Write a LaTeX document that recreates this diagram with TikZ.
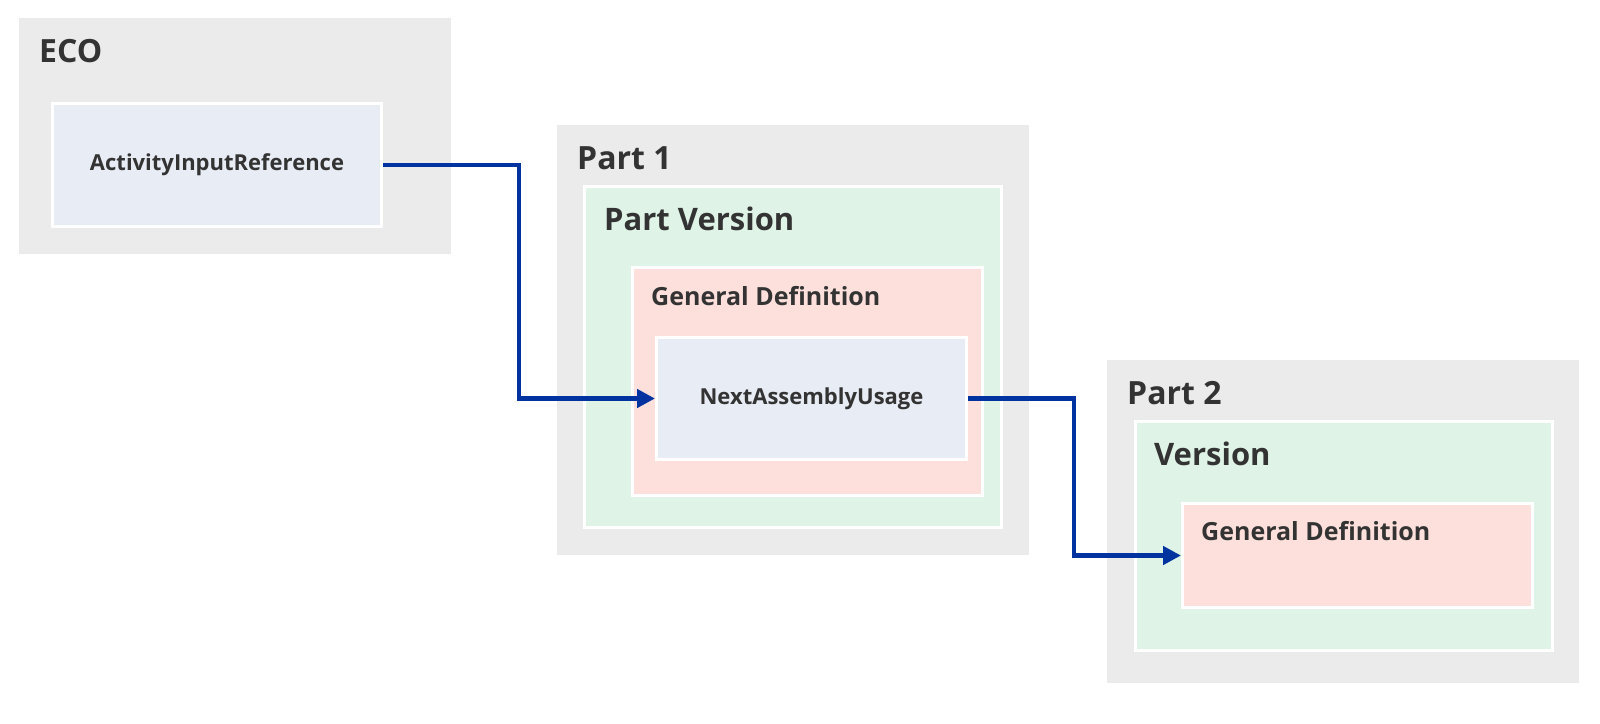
\documentclass[tikz,border=0pt]{standalone}
\usepackage{fontspec}
\setmainfont{Open Sans}
\usetikzlibrary{arrows.meta}
\definecolor{boxgray}{HTML}{EBEBEB}
\definecolor{boxgreen}{HTML}{DFF3E6}
\definecolor{boxred}{HTML}{FDE0DB}
\definecolor{boxblue}{HTML}{E8ECF4}
\definecolor{txt}{HTML}{333333}
\definecolor{conn}{HTML}{00339F}
\tikzset{
  outer/.style={fill=boxgray, draw=none, inner sep=0, outer sep=0},
  inbox/.style={draw=white, line width=3pt, inner sep=0},
  greenbox/.style={inbox, fill=boxgreen},
  redbox/.style={inbox, fill=boxred},
  bluebox/.style={inbox, fill=boxblue, text=txt, font=\bfseries\fontsize{22}{26}\selectfont},
  bigtitle/.style={anchor=base west, inner sep=0, text=txt, font=\bfseries\fontsize{32}{38}\selectfont},
  midtitle/.style={anchor=base west, inner sep=0, text=txt, font=\bfseries\fontsize{31}{37}\selectfont},
  smalltitle/.style={anchor=base west, inner sep=0, text=txt, font=\bfseries\fontsize{25}{30}\selectfont},
  connector/.style={draw=conn, line width=4.5pt, -{Triangle[length=18pt,width=18pt]}}
}
\begin{document}
\begin{tikzpicture}[x=1pt,y=-1pt]
\useasboundingbox (0,0) rectangle (1600,723);
% ECO
\node[outer, minimum width=432pt, minimum height=236pt] (eco) at (235,136) {};
\node[bigtitle] (ecot) at (39,62) {ECO};
\node[bluebox, minimum width=329pt, minimum height=123pt] (air) at (217,165) {\raisebox{-2pt}{ActivityInputReference}};
% Part 1
\node[outer, minimum width=472pt, minimum height=430pt] (p1) at (793,340) {};
\node[bigtitle] (p1t) at (577,169) {Part 1};
\node[greenbox, minimum width=417pt, minimum height=341pt] (pv) at (793,357) {};
\node[midtitle] (pvt) at (604,230) {Part Version};
\node[redbox, minimum width=350pt, minimum height=228pt] (gd1) at (807.5,381.5) {};
\node[smalltitle] (gd1t) at (651,305) {General Definition};
\node[bluebox, minimum width=310pt, minimum height=122pt] (nau) at (811.5,398.5) {\raisebox{-2pt}{NextAssemblyUsage}};
% Part 2
\node[outer, minimum width=472pt, minimum height=323pt] (p2) at (1343,521.5) {};
\node[bigtitle] (p2t) at (1127,404) {Part 2};
\node[greenbox, minimum width=417pt, minimum height=229pt] (ver) at (1344,536) {};
\node[midtitle] (vert) at (1154,465) {Version};
\node[redbox, minimum width=350pt, minimum height=104pt] (gd2) at (1357.5,555.5) {};
\node[smalltitle] (gd2t) at (1201,540) {General Definition};
% connectors
\coordinate (k1) at (519,0);
\coordinate (k2) at (1074,0);
\draw[connector] (air.east) -- (air.east -| k1) -- (k1 |- nau.west) -- (nau.west);
\draw[connector] (nau.east) -- (nau.east -| k2) -- (k2 |- gd2.west) -- (gd2.west);
\end{tikzpicture}
\end{document}
